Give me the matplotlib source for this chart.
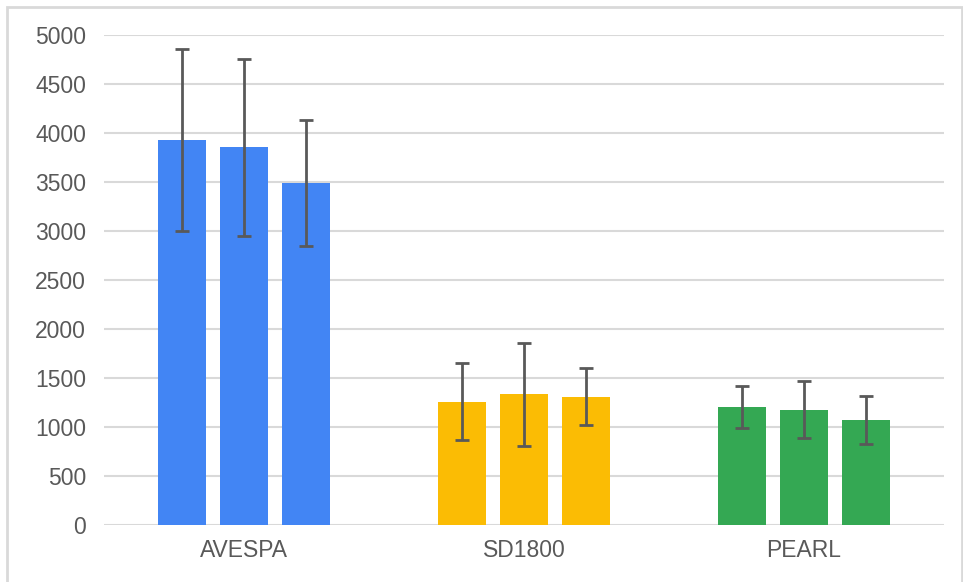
import numpy as np
import matplotlib.pyplot as plt
from matplotlib.patches import Rectangle

categories = ["AVESPA", "SD1800", "PEARL"]
colors = ["#4285F4", "#FBBC04", "#34A853"]
# three bars per category
values = [
    [3930, 3855, 3490],
    [1260, 1335, 1310],
    [1205, 1175, 1070],
]
errors = [
    [925, 905, 645],
    [390, 525, 290],
    [215, 290, 245],
]

plt.rcParams['font.family'] = ['Liberation Sans', 'DejaVu Sans']

fig = plt.figure(figsize=(9.63, 5.82), dpi=100)
ax = fig.add_axes([104 / 963, 1 - 525 / 582, 840 / 963, 490 / 582])

width = 0.171
step = 0.221
x = np.arange(len(categories))
for i in range(len(categories)):
    for j in range(3):
        ax.bar(x[i] + (j - 1) * step, values[i][j], width, color=colors[i],
               yerr=errors[i][j], ecolor="#595959",
               error_kw=dict(elinewidth=2, capsize=5, capthick=2), zorder=3)

ax.set_xlim(-0.5, 2.5)
ax.set_ylim(0, 5000)
ax.set_yticks(np.arange(0, 5001, 500))
ax.set_xticks(x)
ax.set_xticklabels(categories)
ax.yaxis.grid(True, color="#D9D9D9", linewidth=1.5, zorder=0)
ax.set_axisbelow(True)
for s in ax.spines.values():
    s.set_visible(False)
ax.tick_params(axis="y", length=0, pad=13, labelsize=16.5, labelcolor="#595959")
ax.tick_params(axis="x", length=0, pad=10, labelsize=16.5, labelcolor="#595959")

# light frame around the chart
fig.patches.append(Rectangle((7 / 963, -0.01), 955 / 963, 1 - 7 / 582 + 0.01,
                             transform=fig.transFigure, fill=False,
                             edgecolor="#D9D9D9", linewidth=2))

fig.savefig("out.png", dpi=100)
